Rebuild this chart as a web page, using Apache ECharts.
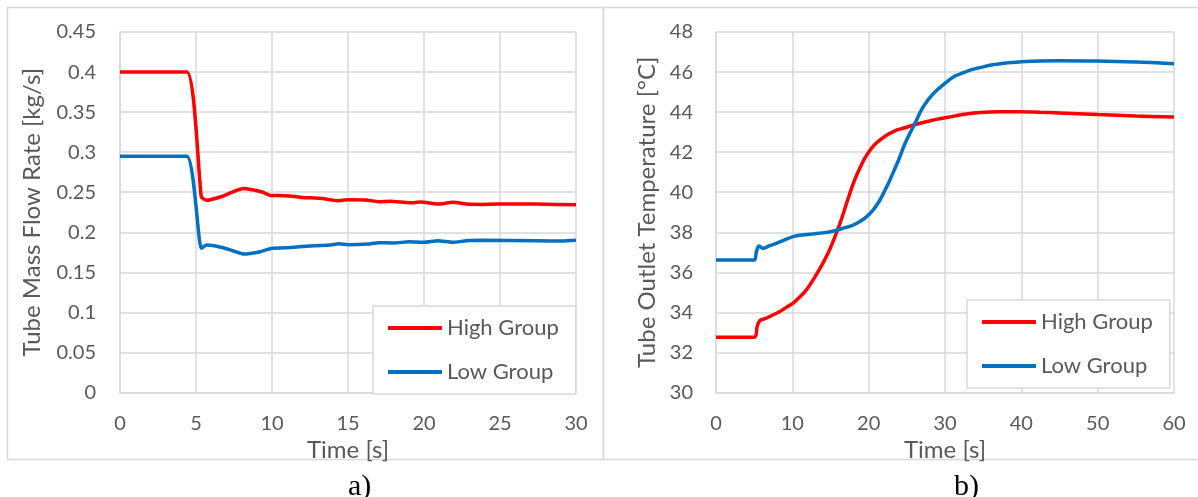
<!DOCTYPE html>
<html>
<head>
<meta charset="utf-8">
<title>Tube flow and outlet temperature</title>
<script src="https://cdn.jsdelivr.net/npm/echarts@6/dist/echarts.min.js"></script>
<style>
  html, body { margin: 0; padding: 0; background: #ffffff; }
  #chart { width: 1198px; height: 497px; }
</style>
</head>
<body>
<div id="chart"></div>
<script>
// ---- a) tube mass flow rate [kg/s] vs time [s]
const flowTicksX = [0, 5, 10, 15, 20, 25, 30];
const flowTicksY = [0, 0.05, 0.1, 0.15, 0.2, 0.25, 0.3, 0.35, 0.4, 0.45];

const flowHighTime = [0, 4.4, 5.35, 5.7, 6.0, 6.6, 7.0, 7.5, 8.1, 8.7, 9.4, 9.9, 10.5, 11.5, 12.0, 13.3, 14.3, 15.0, 16.3, 17.0, 17.8, 19.05, 19.8, 20.9, 21.9, 22.8, 23.8, 24.8, 27.4, 30];
const flowHigh     = [0.400, 0.400, 0.244, 0.240, 0.241, 0.244, 0.247, 0.251, 0.2545, 0.253, 0.250, 0.246, 0.2458, 0.2448, 0.2435, 0.2422, 0.2393, 0.2405, 0.2400, 0.2382, 0.2388, 0.2368, 0.2378, 0.2352, 0.2375, 0.2352, 0.2348, 0.2352, 0.2352, 0.2343];

const flowLowTime = [0, 4.4, 5.34, 5.7, 6.7, 7.4, 8.1, 9.24, 10.0, 11.25, 12.76, 13.8, 14.4, 15.0, 16.3, 17.0, 18.0, 19.0, 20.0, 20.9, 21.9, 22.8, 23.8, 27.4, 29.1, 30];
const flowLow     = [0.295, 0.295, 0.180, 0.184, 0.181, 0.177, 0.1729, 0.1758, 0.1800, 0.1810, 0.1832, 0.1840, 0.1857, 0.1845, 0.1853, 0.1870, 0.1866, 0.1882, 0.1874, 0.1895, 0.1874, 0.1895, 0.1899, 0.1895, 0.1890, 0.1900];

// ---- b) tube outlet temperature [°C] vs time [s]
const tempTicksX = [0, 10, 20, 30, 40, 50, 60];
const tempTicksY = [30, 32, 34, 36, 38, 40, 42, 44, 46, 48];

const tempHighTime = [0, 5.0, 5.4, 5.75, 6.6, 7.5, 8.35, 9.2, 10.1, 11.0, 11.85, 12.6, 13.4, 14.2, 14.8, 15.4, 16.2, 16.9, 17.5, 18.2, 18.84, 19.5, 20.15, 20.8, 21.46, 22.5, 23.65, 24.75, 25.83, 27.0, 28.0, 29.0, 30.2, 32.3, 34.6, 37.0, 40.0, 42.5, 45, 50, 55, 60];
const tempHigh     = [32.76, 32.76, 33.3, 33.59, 33.71, 33.88, 34.04, 34.25, 34.46, 34.78, 35.12, 35.55, 36.05, 36.6, 37.05, 37.6, 38.4, 39.2, 39.9, 40.65, 41.2, 41.7, 42.08, 42.38, 42.6, 42.88, 43.1, 43.22, 43.35, 43.47, 43.56, 43.65, 43.73, 43.88, 43.98, 44.02, 44.02, 43.99, 43.96, 43.88, 43.81, 43.75];

const tempLowTime = [0, 5.0, 5.3, 5.64, 6.16, 7.0, 7.92, 9.0, 10.1, 11.2, 12.7, 14.0, 15.56, 16.8, 17.96, 18.9, 19.7, 20.6, 21.46, 22.1, 22.77, 23.4, 24.08, 24.7, 25.39, 26.05, 27.14, 28.45, 30.2, 31.3, 32.4, 33.5, 34.57, 36.25, 38, 40, 44.75, 50, 55, 60];
const tempLow     = [36.61, 36.61, 37.05, 37.31, 37.2, 37.33, 37.45, 37.62, 37.78, 37.86, 37.92, 37.97, 38.08, 38.22, 38.36, 38.55, 38.77, 39.12, 39.6, 40.07, 40.6, 41.15, 41.76, 42.38, 42.93, 43.43, 44.26, 44.92, 45.5, 45.8, 45.97, 46.12, 46.22, 46.36, 46.45, 46.52, 46.57, 46.55, 46.5, 46.42];

const seriesNames = ['High Group', 'Low Group'];
const seriesColors = ['#ff0000', '#0070c0'];

const zip = (xs, ys) => xs.map((x, i) => [x, ys[i]]);

const textColor = '#595959';
const gridColor = '#d9d9d9';
const font = 'Lato, "Open Sans", sans-serif';

function tickLabel(margin) {
  return {
    color: textColor, fontFamily: font, fontSize: 20, margin: margin,
    showMinLabel: true, showMaxLabel: true,
    formatter: v => String(+v.toFixed(2))
  };
}

function valueAxis(ticks, extra) {
  return Object.assign({
    type: 'value',
    min: ticks[0],
    max: ticks[ticks.length - 1],
    interval: ticks[1] - ticks[0],
    axisLine: { show: true, lineStyle: { color: gridColor, width: 1.5 } },
    axisTick: { show: false },
    splitLine: { show: true, lineStyle: { color: gridColor, width: 1.5 } },
    nameTextStyle: { color: textColor, fontFamily: font, fontSize: 24, lineHeight: 24 },
    nameLocation: 'middle'
  }, extra);
}

function lineSeries(idx, axisIdx, xs, ys, smooth) {
  return {
    name: seriesNames[idx],
    type: 'line',
    xAxisIndex: axisIdx,
    yAxisIndex: axisIdx,
    data: zip(xs, ys),
    showSymbol: false,
    symbol: 'none',
    smooth: smooth,
    lineStyle: { color: seriesColors[idx], width: 3.5 },
    itemStyle: { color: seriesColors[idx] },
    z: 3
  };
}

function legendBox(left, top) {
  return {
    orient: 'vertical',
    left: left,
    top: top,
    data: seriesNames,
    icon: 'rect',
    itemWidth: 54,
    itemHeight: 4,
    itemGap: 22,
    padding: [11, 17, 11, 15],
    backgroundColor: '#ffffff',
    borderColor: gridColor,
    borderWidth: 1.5,
    textStyle: { color: textColor, fontFamily: font, fontSize: 22, lineHeight: 22 },
    selectedMode: false
  };
}

const chart = echarts.init(document.getElementById('chart'), null, { renderer: 'canvas' });

chart.setOption({
  animation: false,
  backgroundColor: '#ffffff',
  grid: [
    { left: 120, top: 32, width: 456, height: 360.5 },
    { left: 716, top: 32, width: 458, height: 360.5 }
  ],
  xAxis: [
    valueAxis(flowTicksX, { gridIndex: 0, name: 'Time [s]', nameGap: 31, axisLabel: tickLabel(21) }),
    valueAxis(tempTicksX, { gridIndex: 1, name: 'Time [s]', nameGap: 31, axisLabel: tickLabel(21) })
  ],
  yAxis: [
    valueAxis(flowTicksY, { gridIndex: 0, name: 'Tube Mass Flow Rate [kg/s]', nameGap: 76, axisLabel: tickLabel(24) }),
    valueAxis(tempTicksY, { gridIndex: 1, name: 'Tube Outlet Temperature [°C]', nameGap: 57, axisLabel: tickLabel(23) })
  ],
  legend: [legendBox(373, 306), legendBox(967, 300)],
  series: [
    lineSeries(0, 0, flowHighTime, flowHigh, 0.15),
    lineSeries(1, 0, flowLowTime, flowLow, 0.15),
    lineSeries(0, 1, tempHighTime, tempHigh, 0.35),
    lineSeries(1, 1, tempLowTime, tempLow, 0.35)
  ],
  graphic: [
    { type: 'rect', shape: { x: 7.5, y: 7.5, width: 596, height: 452 }, style: { fill: null, stroke: gridColor, lineWidth: 1.5 }, silent: true, z: -1 },
    { type: 'rect', shape: { x: 603.5, y: 7.5, width: 600, height: 452 }, style: { fill: null, stroke: gridColor, lineWidth: 1.5 }, silent: true, z: -1 },
    { type: 'text', left: 348, top: 472, style: { text: 'a)', font: '30px "Liberation Serif", "Times New Roman", serif', fill: '#000000' }, silent: true },
    { type: 'text', left: 954, top: 472, style: { text: 'b)', font: '30px "Liberation Serif", "Times New Roman", serif', fill: '#000000' }, silent: true }
  ]
});
</script>
</body>
</html>
